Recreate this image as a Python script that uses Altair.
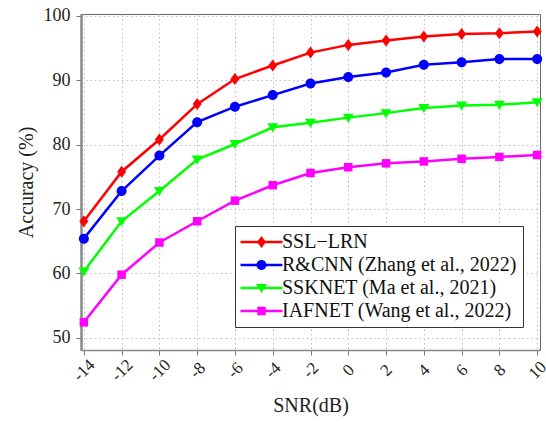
import altair as alt
import pandas as pd

snr = [-14, -12, -10, -8, -6, -4, -2, 0, 2, 4, 6, 8, 10]
ssl_lrn = [68.1, 75.8, 80.8, 86.3, 90.2, 92.3, 94.3, 95.5, 96.2, 96.8, 97.2, 97.3, 97.6]
rcnn = [65.4, 72.8, 78.3, 83.5, 85.9, 87.7, 89.5, 90.5, 91.2, 92.4, 92.8, 93.3, 93.3]
ssknet = [60.3, 68.1, 72.8, 77.7, 80.1, 82.7, 83.4, 84.2, 84.9, 85.7, 86.1, 86.2, 86.6]
iafnet = [52.4, 59.8, 64.8, 68.1, 71.3, 73.7, 75.6, 76.5, 77.1, 77.4, 77.8, 78.1, 78.4]

series_names = ["SSL\u2212LRN", "R&CNN (Zhang et al., 2022)", "SSKNET (Ma et al., 2021)", "IAFNET (Wang et al., 2022)"]
series_colors = ["#ff0000", "#0000ff", "#00ff00", "#ff00ff"]
x_ticks = [-14, -12, -10, -8, -6, -4, -2, 0, 2, 4, 6, 8, 10]
y_ticks = [50, 60, 70, 80, 90, 100]

rows = []
for name, vals in zip(series_names, [ssl_lrn, rcnn, ssknet, iafnet]):
    for s, v in zip(snr, vals):
        rows.append({"snr": s, "acc": v, "series": name})
df = pd.DataFrame(rows)


def marker_paths(c):
    return [
        f"M{c},-1.2L{c+0.9},0L{c},1.2L{c-0.9},0Z",
        f"M{c-1},0A1,1 0 1,1 {c+1},0A1,1 0 1,1 {c-1},0Z",
        f"M{c-1.1},-0.8L{c+1.1},-0.8L{c},1.0Z",
        f"M{c-0.85},-0.85H{c+0.85}V0.85H{c-0.85}Z",
    ]


# marker shapes for plot
plot_shapes = marker_paths(0)
# legend symbols: line + marker
ls, le, lc = -2.1, 6.3, 2.1
line_part = f"M{ls},-0.25H{le}V0.25H{ls}Z "
legend_shapes = [line_part + p for p in marker_paths(lc)]

FONT = "'Liberation Serif', 'Times New Roman', Times, serif"

x_enc = alt.X("snr:Q", scale=alt.Scale(domain=[-14.15, 10.15], nice=False, zero=False),
              axis=alt.Axis(values=x_ticks, title="SNR(dB)", labelExpr="'' + datum.value",
                            labelAngle=315, labelAlign="center", labelBaseline="middle",
                            labelFontSize=17, labelPadding=15, titlePadding=12,
                            domainColor="#888888", domainWidth=1.5))
y_enc = alt.Y("acc:Q", scale=alt.Scale(domain=[48.1, 100.3], nice=False, zero=False),
              axis=alt.Axis(values=y_ticks, title="Accuracy (%)", labelPadding=6, titlePadding=7,
                            domainColor="#888888", domainWidth=2.5))

color_scale = alt.Scale(domain=series_names, range=series_colors)

base = alt.Chart(df)

lines = base.mark_line(strokeWidth=2.5).encode(
    x=x_enc, y=y_enc,
    color=alt.Color("series:N", scale=color_scale, legend=None),
)

points = base.mark_point(filled=True, size=100, opacity=1).encode(
    x=x_enc, y=y_enc,
    color=alt.Color("series:N", scale=color_scale, legend=None),
    shape=alt.Shape("series:N", scale=alt.Scale(domain=series_names, range=plot_shapes), legend=None),
)

legend_layer = base.transform_filter("false").mark_point(filled=True, size=100, opacity=1).encode(
    x=x_enc, y=y_enc,
    color=alt.Color("series:N", scale=color_scale,
                    legend=alt.Legend(title=None, orient="none", legendX=154, legendY=212,
                                      symbolSize=100, symbolStrokeWidth=0, symbolOpacity=1,
                                      labelOffset=21, labelFontSize=20, labelFont=FONT,
                                      labelColor="#111111",
                                      rowPadding=3, padding=6, strokeColor="#333333",
                                      fillColor="white", labelLimit=400)),
    shape=alt.Shape("series:N", scale=alt.Scale(domain=series_names, range=legend_shapes)),
)

chart = alt.layer(lines, points, legend_layer).resolve_scale(
    color="independent", shape="independent"
).properties(
    width=459, height=336,
    autosize=alt.AutoSizeParams(type="none"),
    padding={"left": 81, "top": 14, "right": 6, "bottom": 75},
).configure_view(
    stroke="#666666", strokeWidth=1
).configure_axis(
    labelFont=FONT, titleFont=FONT, labelFontSize=18, titleFontSize=20,
    labelColor="#222222", titleColor="#222222", titleFontWeight="normal",
    gridColor="#c0c0c0", gridDash=[1.5, 3], gridWidth=1,
    tickColor="#777777", tickSize=5, tickWidth=1,
)

chart.save("out.html", embed_options={"renderer": "svg", "actions": False})
